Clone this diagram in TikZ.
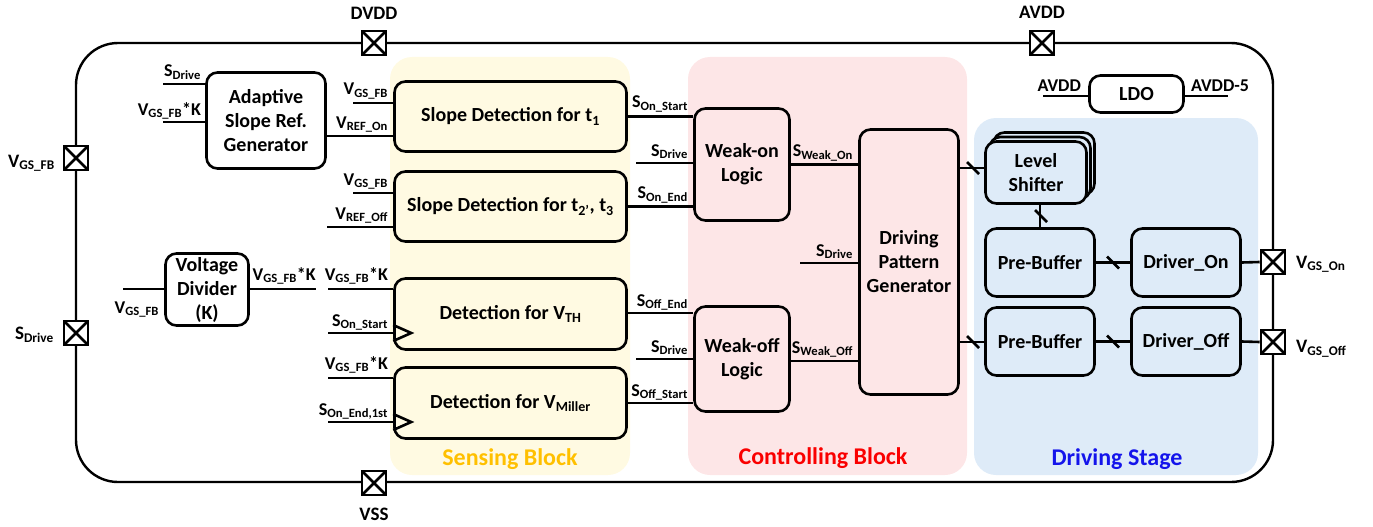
\documentclass[tikz,border=0pt]{standalone}
\usepackage{fontspec}
\setmainfont{Carlito}
\usetikzlibrary{calc}
\definecolor{sensbg}{RGB}{255,250,226}
\definecolor{ctrlbg}{RGB}{253,230,231}
\definecolor{drvbg}{RGB}{222,235,248}
\definecolor{sensfg}{RGB}{255,192,0}
\definecolor{ctrlfg}{RGB}{250,0,0}
\definecolor{drvfg}{RGB}{20,20,235}
\newcommand\sg[2]{#1\textsubscript{#2}}
\newcommand\busmark[1]{\draw[conn] ($(#1)+(-6,-6)$) -- ($(#1)+(6,6)$);}
\begin{document}
\begin{tikzpicture}[x=1pt,y=-1pt,
  blk/.style={draw, line width=2.6pt, rounded corners=11pt, align=center, inner sep=0pt, font=\fontsize{20}{24}\selectfont\bfseries},
  conn/.style={line width=2.6pt},
  lbl/.style={inner sep=0pt, font=\fontsize{18}{20}\selectfont\bfseries},
  inlbl/.style={lbl, pos=1, anchor=base east, xshift=-4pt, yshift=7pt},
  pad/.style={draw, line width=2.6pt, fill=white, minimum size=24pt, inner sep=0pt,
    path picture={\draw[line width=2.6pt] (path picture bounding box.north west)--(path picture bounding box.south east) (path picture bounding box.south west)--(path picture bounding box.north east);}},
  padlbl/.style={inner sep=0pt, font=\fontsize{19}{22}\selectfont\bfseries},
  region/.style={rounded corners=22pt},
  title/.style={inner sep=0pt, font=\fontsize{24}{28}\selectfont\bfseries}
]
\useasboundingbox (0,0) rectangle (1373,527);
% regions
\fill[sensbg, region] (390,57) rectangle (630,475);
\fill[ctrlbg, region] (688,57) rectangle (967,475);
\fill[drvbg, region] (974,118) rectangle (1258,475);
\node[title, text=sensfg] (tsens) at (510,459) {Sensing Block};
\node[title, text=ctrlfg] (tctrl) at (823,458) {Controlling Block};
\node[title, text=drvfg] (tdrv) at (1117,459) {Driving Stage};
% chip border
\draw[line width=2.4pt, rounded corners=42pt] (76,43) rectangle (1273,482);
% pads
\node[pad] (pdvdd) at (374,43) {};
\node[pad] (pavdd) at (1042,43) {};
\node[pad] (pvfb) at (76,158) {};
\node[pad] (psdrv) at (76,333) {};
\node[pad] (pvss) at (374,483) {};
\node[pad] (pon) at (1273,262) {};
\node[pad] (poff) at (1273,342) {};
\node[padlbl, anchor=base] (ldvdd) at (374,20) {DVDD};
\node[padlbl, anchor=base] (lavdd) at (1042,19) {AVDD};
\node[padlbl, anchor=base] (lvss) at (374,520) {VSS};
\node[padlbl, anchor=base east] (lvfb) at (55,167) {\sg{V}{GS\_FB}};
\node[padlbl, anchor=base east] (lsdrv) at (54,339) {\sg{S}{Drive}};
\node[padlbl, anchor=base west] (lon) at (1296,268) {\sg{V}{GS\_On}};
\node[padlbl, anchor=base west] (loff) at (1296,352) {\sg{V}{GS\_Off}};
% blocks
\node[blk, minimum width=119pt, minimum height=96pt] (asrg) at (266,120.5) {Adaptive\\Slope Ref.\\Generator};
\node[blk, minimum width=232pt, minimum height=70pt] (sd1) at (510.5,116.5) {Slope Detection for \sg{t}{1}};
\node[blk, minimum width=232pt, minimum height=70pt] (sd2) at (510.5,206.5) {Slope Detection for \sg{t}{2’}, \sg{t}{3}};
\node[blk, minimum width=232pt, minimum height=71pt] (dth) at (510.5,314) {Detection for \sg{V}{TH}};
\node[blk, minimum width=232pt, minimum height=71pt] (dmi) at (510.5,403) {Detection for \sg{V}{Miller}};
\node[blk, minimum width=83pt, minimum height=72pt] (vd) at (207,289.5) {Voltage\\Divider\\(K)};
\node[blk, minimum width=95pt, minimum height=112pt] (won) at (742,164.5) {Weak-on\\Logic};
\node[blk, minimum width=95pt, minimum height=105pt] (woff) at (742,359) {Weak-off\\Logic};
\node[blk, minimum width=99pt, minimum height=265pt] (dpg) at (909,262) {Driving\\Pattern\\Generator};
\node[blk, minimum width=101pt, minimum height=62pt, fill=drvbg] (ls3) at (1044,163.5) {};
\node[blk, minimum width=101pt, minimum height=62pt, fill=drvbg] (ls2) at (1040,168) {};
\node[blk, minimum width=101pt, minimum height=62pt, fill=drvbg] (ls) at (1036,172.5) {Level\\Shifter};
\node[blk, minimum width=109pt, minimum height=68pt] (pb1) at (1040,262.5) {Pre-Buffer};
\node[blk, minimum width=109pt, minimum height=68pt] (don) at (1186,262.5) {Driver\_On};
\node[blk, minimum width=109pt, minimum height=68pt] (pb2) at (1040,341.5) {Pre-Buffer};
\node[blk, minimum width=109pt, minimum height=68pt] (doff) at (1186,341.5) {Driver\_Off};
\node[blk, minimum width=94pt, minimum height=37pt] (ldo) at (1136.5,94) {LDO};
% free ends / reference coordinates
\coordinate (a1) at (163,84);
\coordinate (a2) at (163,122);
\coordinate (vrefon) at (360,136);
\coordinate (s1a) at (353,103);
\coordinate (s2a) at (353,193);
\coordinate (s2b) at (327,227);
\coordinate (vdin) at (123,289);
\coordinate (vdout) at (316,289);
\coordinate (t1) at (328,289);
\coordinate (t2) at (328,333);
\coordinate (m1) at (328,378);
\coordinate (m2) at (328,422);
\coordinate (wd1) at (636,163);
\coordinate (wd2) at (636,359);
\coordinate (dd) at (800,263);
\coordinate (lsy) at (970,168);
\coordinate (pby) at (970,342);
\coordinate (ldoin) at (1043,96);
\coordinate (ldoout) at (1228,96);
% left connectors
\draw[conn] (a1) -- (a1 -| asrg.west) node[inlbl, xshift=1pt] {\sg{S}{Drive}};
\draw[conn] (a2) -- (a2 -| asrg.west) node[inlbl, xshift=1pt] {\sg{V}{GS\_FB}*K};
\draw[conn] (asrg.east |- vrefon) -- (sd1.west |- vrefon) node[inlbl, yshift=1pt] {\sg{V}{REF\_On}};
\draw[conn] (s1a) -- (s1a -| sd1.west) node[inlbl, yshift=1pt] {\sg{V}{GS\_FB}};
\draw[conn] (s2a) -- (s2a -| sd2.west) node[inlbl, yshift=1pt] {\sg{V}{GS\_FB}};
\draw[conn] (s2b) -- (s2b -| sd2.west) node[inlbl, yshift=1pt] {\sg{V}{REF\_Off}};
\draw[conn] (vdin) -- (vdin -| vd.west) node[lbl, pos=1, anchor=base east, xshift=-4pt, yshift=-24pt] {\sg{V}{GS\_FB}};
\draw[conn] (vd.east |- vdout) -- (vdout) node[lbl, pos=1, anchor=base east, xshift=1pt, yshift=9pt] {\sg{V}{GS\_FB}*K};
\draw[conn] (t1) -- (t1 -| dth.west) node[inlbl, yshift=2pt] {\sg{V}{GS\_FB}*K};
\draw[conn] (t2) -- (t2 -| dth.west) node[inlbl] {\sg{S}{On\_Start}};
\draw[conn] (m1) -- (m1 -| dmi.west) node[inlbl, yshift=2pt] {\sg{V}{GS\_FB}*K};
\draw[conn] (m2) -- (m2 -| dmi.west) node[inlbl] {\sg{S}{On\_End,1st}};
% clock triangles
\draw[conn, line join=miter] ($(t2 -| dth.west)+(0,-8)$) -- ($(t2 -| dth.west)+(18,0)$) -- ($(t2 -| dth.west)+(0,8)$);
\draw[conn, line join=miter] ($(m2 -| dmi.west)+(0,-8)$) -- ($(m2 -| dmi.west)+(18,0)$) -- ($(m2 -| dmi.west)+(0,8)$);
% middle connectors
\draw[conn] (sd1.east) -- (sd1.east -| won.west) node[inlbl, yshift=2pt] {\sg{S}{On\_Start}};
\draw[conn] (wd1) -- (wd1 -| won.west) node[inlbl] {\sg{S}{Drive}};
\draw[conn] (sd2.east) -- (sd2.east -| won.west) node[inlbl, yshift=1pt] {\sg{S}{On\_End}};
\draw[conn] (dth.east |- 0,313) -- (dth.east |- 0,313 -| woff.west) node[inlbl] {\sg{S}{Off\_End}};
\draw[conn] (wd2) -- (wd2 -| woff.west) node[inlbl] {\sg{S}{Drive}};
\draw[conn] (dmi.east) -- (dmi.east -| woff.west) node[inlbl] {\sg{S}{Off\_Start}};
\draw[conn] (won.east) -- (won.east -| dpg.west) node[inlbl, yshift=1pt] {\sg{S}{Weak\_On}};
\draw[conn] (woff.east |- 0,361) -- (dpg.west |- 0,361) node[inlbl, yshift=1pt] {\sg{S}{Weak\_Off}};
\draw[conn] (dd) -- (dd -| dpg.west) node[inlbl] {\sg{S}{Drive}};
% right connectors
\draw[conn] (dpg.east |- lsy) -- (ls.west |- lsy);
\busmark{973,168}
\draw[conn] (dpg.east |- pby) -- (pb2.west |- pby);
\busmark{973,342}
\draw[conn] (pb1.north) -- (pb1.north |- ls.south);
\busmark{1041,216}
\draw[conn] (pb1.east) -- (don.west);
\busmark{1113,262.5}
\draw[conn] (pb2.east) -- (doff.west);
\busmark{1113,341.5}
\draw[conn] (don.east) -- (pon.west);
\draw[conn] (doff.east) -- (poff.west);
\draw[conn] (ldoin) -- (ldoin -| ldo.west) node[inlbl, xshift=-2pt, yshift=-2pt] {AVDD};
\draw[conn] (ldo.east |- ldoout) -- (ldoout) node[lbl, pos=0, anchor=base west, xshift=5pt, yshift=5pt] {AVDD-5};
\end{tikzpicture}
\end{document}
